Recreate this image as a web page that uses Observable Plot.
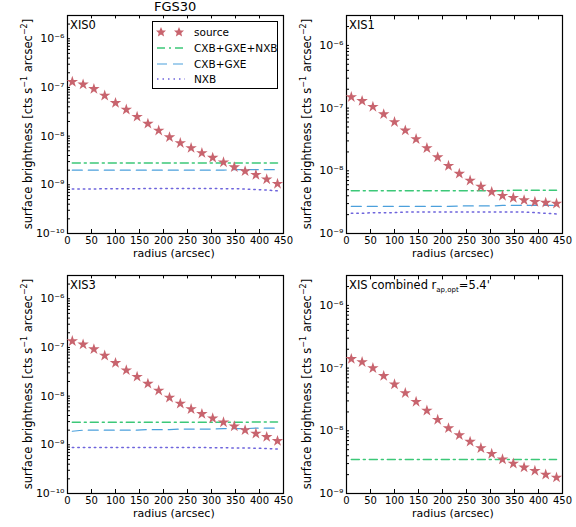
<!DOCTYPE html>
<html><head>
<script src="https://cdn.jsdelivr.net/npm/d3@7"></script>
<script src="https://cdn.jsdelivr.net/npm/@observablehq/plot@0.6"></script>
<style>
body{margin:0;background:#fff;font-family:"DejaVu Sans",sans-serif;}
#wrap{position:relative;width:576px;height:527px;}
.p{position:absolute;}
.t{position:absolute;font-size:13px;}
</style></head><body><div id="wrap"></div>
<script>
const radius = [10,32.5,55,77.5,100,122.5,145,167.5,190,212.5,235,257.5,280,302.5,325,347.5,370,392.5,415,437.5];

const src0 = [1.3e-7,1.15e-7,9.3e-8,6.8e-8,4.8e-8,3.5e-8,2.5e-8,1.8e-8,1.3e-8,9.5e-9,7.2e-9,5.7e-9,4.5e-9,3.6e-9,2.9e-9,2.3e-9,1.9e-9,1.6e-9,1.3e-9,1.05e-9];
const src1 = [1.5e-7,1.3e-7,1.05e-7,8.0e-8,6.0e-8,4.4e-8,3.2e-8,2.3e-8,1.65e-8,1.2e-8,9.0e-9,7.0e-9,5.6e-9,4.6e-9,4.0e-9,3.7e-9,3.4e-9,3.2e-9,3.1e-9,3.0e-9];
const src3 = [1.35e-7,1.15e-7,9.2e-8,6.8e-8,4.8e-8,3.4e-8,2.5e-8,1.8e-8,1.3e-8,9.3e-9,7.0e-9,5.4e-9,4.3e-9,3.5e-9,2.9e-9,2.4e-9,2.0e-9,1.7e-9,1.45e-9,1.2e-9];
const srcC = [1.4e-7,1.25e-7,1.0e-7,7.5e-8,5.5e-8,4.0e-8,2.9e-8,2.1e-8,1.5e-8,1.1e-8,8.5e-9,6.7e-9,5.3e-9,4.3e-9,3.5e-9,3.0e-9,2.6e-9,2.3e-9,2.0e-9,1.8e-9];

const tot0 = [2.8e-9,2.8e-9,2.8e-9,2.8e-9,2.8e-9,2.8e-9,2.8e-9,2.8e-9,2.8e-9,2.8e-9,2.8e-9,2.8e-9,2.8e-9,2.8e-9,2.8e-9,2.8e-9,2.8e-9,2.8e-9,2.8e-9,2.8e-9];
const cg0  = [2.0e-9,2.0e-9,2.0e-9,2.0e-9,2.0e-9,2.0e-9,2.0e-9,2.0e-9,2.0e-9,2.0e-9,2.0e-9,2.0e-9,2.0e-9,2.0e-9,2.0e-9,2.05e-9,2.05e-9,2.05e-9,2.05e-9,2.05e-9];
const nxb0 = [8.2e-10,8.2e-10,8.2e-10,8.3e-10,8.3e-10,8.3e-10,8.3e-10,8.4e-10,8.4e-10,8.4e-10,8.4e-10,8.4e-10,8.4e-10,8.4e-10,8.3e-10,8.3e-10,8.2e-10,8.0e-10,7.8e-10,7.5e-10];
const tot1 = [4.8e-9,4.8e-9,4.8e-9,4.8e-9,4.8e-9,4.8e-9,4.8e-9,4.8e-9,4.8e-9,4.8e-9,4.8e-9,4.8e-9,4.8e-9,4.8e-9,4.8e-9,4.9e-9,4.9e-9,4.9e-9,4.9e-9,4.9e-9];
const cg1  = [2.7e-9,2.7e-9,2.7e-9,2.7e-9,2.7e-9,2.7e-9,2.7e-9,2.7e-9,2.7e-9,2.7e-9,2.75e-9,2.75e-9,2.75e-9,2.75e-9,2.8e-9,2.8e-9,2.8e-9,2.8e-9,2.8e-9,2.8e-9];
const nxb1 = [2.1e-9,2.1e-9,2.15e-9,2.15e-9,2.15e-9,2.2e-9,2.2e-9,2.2e-9,2.2e-9,2.2e-9,2.2e-9,2.2e-9,2.2e-9,2.2e-9,2.2e-9,2.2e-9,2.2e-9,2.15e-9,2.1e-9,2.05e-9];
const tot3 = [2.9e-9,2.9e-9,2.9e-9,2.9e-9,2.9e-9,2.9e-9,2.9e-9,2.9e-9,2.9e-9,2.9e-9,2.9e-9,2.9e-9,2.9e-9,2.9e-9,2.9e-9,2.9e-9,2.9e-9,2.95e-9,2.95e-9,2.95e-9];
const cg3  = [1.9e-9,2.0e-9,2.0e-9,2.0e-9,2.0e-9,2.0e-9,2.0e-9,2.05e-9,2.05e-9,2.05e-9,2.1e-9,2.1e-9,2.1e-9,2.1e-9,2.15e-9,2.15e-9,2.15e-9,2.2e-9,2.2e-9,2.2e-9];
const nxb3 = [8.8e-10,8.8e-10,8.8e-10,8.8e-10,8.8e-10,8.8e-10,8.8e-10,8.8e-10,8.8e-10,8.8e-10,8.8e-10,8.8e-10,8.8e-10,8.7e-10,8.7e-10,8.6e-10,8.6e-10,8.5e-10,8.4e-10,8.2e-10];
const totC = [3.5e-9,3.5e-9,3.5e-9,3.5e-9,3.5e-9,3.5e-9,3.5e-9,3.5e-9,3.5e-9,3.5e-9,3.5e-9,3.5e-9,3.5e-9,3.5e-9,3.5e-9,3.5e-9,3.5e-9,3.5e-9,3.5e-9,3.5e-9];

const xTicks = [0,50,100,150,200,250,300,350,400,450];
const sup = {"-":"⁻","0":"⁰","1":"¹","2":"²","3":"³","4":"⁴","5":"⁵","6":"⁶","7":"⁷","8":"⁸","9":"⁹"};
const fmt = d => { const e = Math.round(Math.log10(d)); return Math.abs(Math.log10(d) - e) < 1e-6 ? "10" + String(e).split("").map(c => sup[c]).join("") : ""; };

const C = {src:"#c8646e", tot:"#3cc878", cg:"#4ba0dc", nxb:"#6e64dc"};
const YMAX = 3e-6;

function panel(left, top, label, src, tot, cg, nxb, ymin) {
  const minor = [];
  for (let e = Math.round(Math.log10(ymin)); e < -5; e++) for (let k = 1; k < 10; k++) if (k * 10 ** e <= YMAX) minor.push(k * 10 ** e);
  const rows = (a) => radius.map((r, i) => ({r, v: a[i]}));
  const marks = [
    Plot.frame({stroke: "#000", strokeWidth: 1.2}),
    Plot.axisX({ticks: xTicks, tickSize: -4, tickPadding: 7, fontSize: 10, label: null}),
    Plot.ruleX(xTicks, {x: d => d, y1: YMAX, y2: YMAX * 0.85, stroke: "#000"}),
    Plot.axisY({ticks: minor, tickSize: -3, tickPadding: 6, tickFormat: fmt, fontSize: 11, label: null}),
  ];
  if (nxb) marks.push(Plot.line(rows(nxb), {x: "r", y: "v", stroke: C.nxb, strokeWidth: 1.5, strokeDasharray: "1.5,4"}));
  if (cg) marks.push(Plot.line(rows(cg), {x: "r", y: "v", stroke: C.cg, strokeWidth: 1.2, strokeDasharray: "10,6"}));
  marks.push(Plot.line(rows(tot), {x: "r", y: "v", stroke: C.tot, strokeWidth: 1.5, strokeDasharray: "8,4,2,4"}));
  marks.push(Plot.dot(rows(src), {x: "r", y: "v", symbol: "star", fill: C.src, r: 3.6}));
  const svg = Plot.plot({
    width: 288, height: 263, marginLeft: 67, marginRight: 5, marginTop: 15, marginBottom: 30,
    style: {fontFamily: "DejaVu Sans, sans-serif", fontSize: "11px", color: "#000", overflow: "visible"},
    x: {domain: [0, 450]},
    y: {type: "log", domain: [ymin, YMAX]},
    marks
  });
  svg.classList.add("p");
  svg.style.left = left + "px"; svg.style.top = top + "px";
  wrap.appendChild(svg);
  const lab = document.createElement("div");
  lab.className = "t"; lab.innerHTML = label;
  lab.style.left = (left + 70) + "px"; lab.style.top = (top + 18) + "px"; lab.style.fontSize = "11.5px";
  wrap.appendChild(lab);
  const xl = document.createElement("div");
  xl.className = "t"; xl.textContent = "radius (arcsec)"; xl.style.fontSize = "11px";
  xl.style.left = (left + 133) + "px"; xl.style.top = (top + 247) + "px";
  wrap.appendChild(xl);
  const yl = document.createElement("div");
  yl.className = "t"; yl.innerHTML = "surface brightness [cts s<sup style='font-size:8px'>−1</sup> arcsec<sup style='font-size:8px'>−2</sup>]";
  yl.style.fontSize = "11.5px"; yl.style.whiteSpace = "nowrap";
  yl.style.left = (left + 20) + "px"; yl.style.top = (top + 124) + "px";
  yl.style.transformOrigin = "0 0";
  yl.style.transform = "rotate(-90deg) translate(-50%, 0)";
  wrap.appendChild(yl);
}
const wrap = document.getElementById("wrap");
panel(0, 0, "XIS0", src0, tot0, cg0, nxb0, 1e-10);
panel(279, 0, "XIS1", src1, tot1, cg1, nxb1, 1e-9);
panel(0, 260, "XIS3", src3, tot3, cg3, nxb3, 1e-10);
panel(279, 260, "XIS combined r<sub style='font-size:7px'>ap,opt</sub>=5.4'", srcC, totC, null, null, 1e-9);

const title = document.createElement("div");
title.className = "t"; title.textContent = "FGS30"; title.style.fontSize = "13px";
title.style.left = "154px"; title.style.top = "-1px";
wrap.appendChild(title);

const leg = document.createElement("div");
leg.style.cssText = "position:absolute;left:152px;top:21px;width:124px;height:66px;border:1px solid #000;background:#fff;font-size:10.5px;";
leg.innerHTML = `<svg width="124" height="66" style="position:absolute;left:0;top:0;font-family:DejaVu Sans">
<path d="M0,-5L1.5,-1.6L5,-1.4L2.3,0.9L3.1,4.5L0,2.6L-3.1,4.5L-2.3,0.9L-5,-1.4L-1.5,-1.6Z" fill="${C.src}" transform="translate(8,10)"/>
<path d="M0,-5L1.5,-1.6L5,-1.4L2.3,0.9L3.1,4.5L0,2.6L-3.1,4.5L-2.3,0.9L-5,-1.4L-1.5,-1.6Z" fill="${C.src}" transform="translate(26,10)"/>
<line x1="4" x2="32" y1="26" y2="26" stroke="${C.tot}" stroke-width="1.5" stroke-dasharray="8,4,2,4"/>
<line x1="4" x2="32" y1="42" y2="42" stroke="${C.cg}" stroke-width="1.2" stroke-dasharray="10,6"/>
<line x1="4" x2="32" y1="57" y2="57" stroke="${C.nxb}" stroke-width="1.5" stroke-dasharray="1.5,4"/>
<text x="41" y="14">source</text><text x="41" y="30">CXB+GXE+NXB</text>
<text x="41" y="46">CXB+GXE</text><text x="41" y="61">NXB</text></svg>`;
wrap.appendChild(leg);
</script></body></html>
